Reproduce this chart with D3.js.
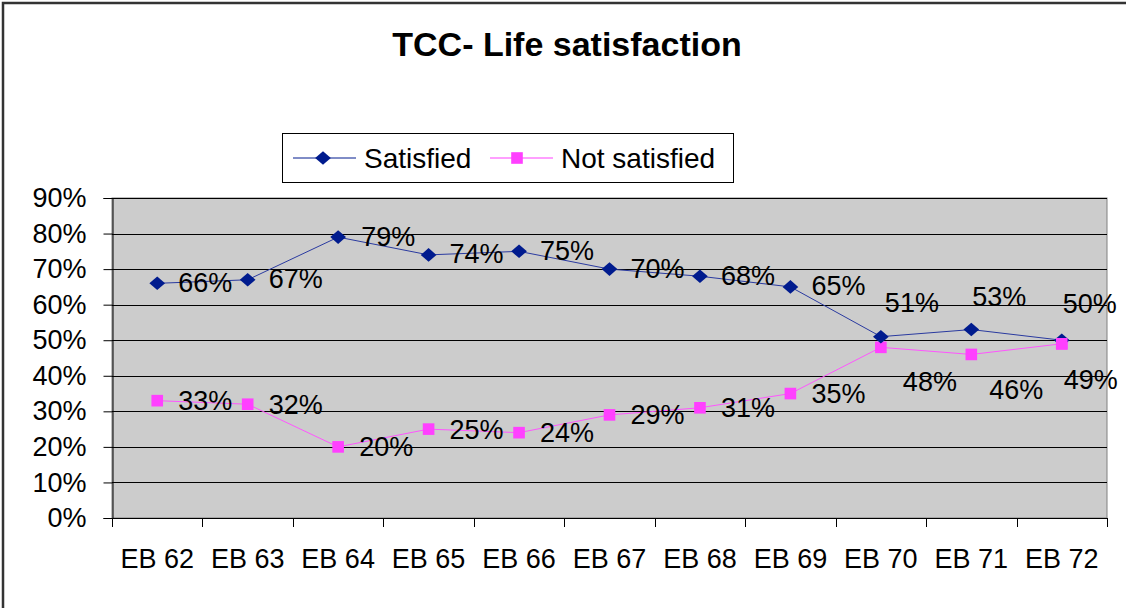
<!DOCTYPE html>
<html>
<head>
<meta charset="utf-8">
<script src="https://cdn.jsdelivr.net/npm/d3@7"></script>
<style>
  body { margin: 0; background: #fff; }
  text { font-family: Arial, "Liberation Sans", sans-serif; fill: #000; }
</style>
</head>
<body>
<script>
var categories = ["EB 62","EB 63","EB 64","EB 65","EB 66","EB 67","EB 68","EB 69","EB 70","EB 71","EB 72"];
var satisfied = [66,67,79,74,75,70,68,65,51,53,50];
var notSatisfied = [33,32,20,25,24,29,31,35,48,46,49];
var yTicks = [0,10,20,30,40,50,60,70,80,90];
var titleText = "TCC- Life satisfaction";
var seriesNames = ["Satisfied","Not satisfied"];

// label nudges (how Excel had them placed)
var satLabelShift = [[21,-1],[21,-1],[23,-1],[21,-1],[21,-1],[21,-1],[21,-1],[21,-1],[4,-34],[1,-33],[1,-37]];
var notLabelShift = [[21,0],[21,0],[21,0],[21,0],[21,0],[21,0],[21,0],[21,0],[22,34],[18,35],[2,36]];

var w=1126, h=608;
var fs=27;
var svg=d3.select("body").append("svg").attr("width",w).attr("height",h);

// outer frame
svg.append("path").attr("d","M3,"+h+"V3H"+w).attr("fill","none").attr("stroke","#333").attr("stroke-width",2.5);

var pLeft=112, pRight=1107, pTop=198, pBottom=518;
var x=d3.scaleBand().domain(categories).range([pLeft,pRight]).padding(0);
var y=d3.scaleLinear().domain([0,90]).range([pBottom,pTop]);
var cx=function(i){ return x(categories[i])+x.bandwidth()/2; };

// plot area
svg.append("rect").attr("x",pLeft).attr("y",pTop).attr("width",pRight-pLeft).attr("height",pBottom-pTop)
  .attr("fill","#cccccc").attr("stroke","#808080").attr("stroke-width",1);

// gridlines
svg.append("g").selectAll("line").data(yTicks.filter(function(d){return d>0;})).enter().append("line")
  .attr("x1",pLeft).attr("x2",pRight).attr("y1",function(d){return Math.round(y(d))+0.5;}).attr("y2",function(d){return Math.round(y(d))+0.5;})
  .attr("stroke","#000").attr("stroke-width",1);

// y axis
var yAxis=svg.append("g").attr("transform","translate("+(pLeft+0.5)+",0)")
  .call(d3.axisLeft(y).tickValues(yTicks).tickSize(9).tickPadding(17).tickFormat(function(d){return d+"%";}));
yAxis.select(".domain").attr("stroke","#000");
yAxis.selectAll(".tick line").attr("stroke","#000");
yAxis.selectAll("text").attr("font-size",fs).attr("font-family","Arial, 'Liberation Sans', sans-serif").attr("fill","#000");

// x axis
var xg=svg.append("g");
xg.append("line").attr("x1",pLeft).attr("x2",pRight).attr("y1",pBottom+0.5).attr("y2",pBottom+0.5).attr("stroke","#000");
var bounds=categories.map(function(c){return x(c);}).concat([pRight]);
xg.selectAll("line.tk").data(bounds).enter().append("line").attr("class","tk")
  .attr("x1",function(d){return Math.round(d)+0.5;}).attr("x2",function(d){return Math.round(d)+0.5;})
  .attr("y1",pBottom).attr("y2",pBottom+9).attr("stroke","#000");
xg.selectAll("text").data(categories).enter().append("text")
  .attr("x",function(d,i){return cx(i);}).attr("y",568).attr("text-anchor","middle").attr("font-size",fs)
  .text(function(d){return d;});

// series lines
var line=d3.line().x(function(d,i){return cx(i);}).y(function(d){return y(d);});
svg.append("path").datum(satisfied).attr("d",line).attr("fill","none").attr("stroke","#2a3aa0").attr("stroke-width",1);
svg.append("path").datum(notSatisfied).attr("d",line).attr("fill","none").attr("stroke","#ff55ff").attr("stroke-width",1);

var diamond=d3.symbol().type(d3.symbolDiamond2).size(130);
var square=d3.symbol().type(d3.symbolSquare).size(135);

svg.append("g").selectAll("path").data(notSatisfied).enter().append("path")
  .attr("d",square).attr("transform",function(d,i){return "translate("+cx(i)+","+y(d)+")";}).attr("fill","#ff40ff");
svg.append("g").selectAll("path").data(satisfied).enter().append("path")
  .attr("d",diamond).attr("transform",function(d,i){return "translate("+cx(i)+","+y(d)+") scale(1.1,0.95)";}).attr("fill","#001b8e");
// last not-satisfied square sits on top of the diamond
svg.append("path").attr("d",square).attr("transform","translate("+cx(10)+","+y(notSatisfied[10])+")").attr("fill","#ff40ff");

// data labels
svg.append("g").selectAll("text").data(satisfied).enter().append("text")
  .attr("x",function(d,i){return cx(i)+satLabelShift[i][0];}).attr("y",function(d,i){return y(d)+satLabelShift[i][1];})
  .attr("dy","0.35em").attr("font-size",fs).text(function(d){return d+"%";});
svg.append("g").selectAll("text").data(notSatisfied).enter().append("text")
  .attr("x",function(d,i){return cx(i)+notLabelShift[i][0];}).attr("y",function(d,i){return y(d)+notLabelShift[i][1];})
  .attr("dy","0.35em").attr("font-size",fs).text(function(d){return d+"%";});

// title
svg.append("text").attr("x",567).attr("y",56).attr("text-anchor","middle").attr("font-size",34).attr("font-weight","bold")
  .text(titleText);

// legend
var lg=svg.append("g");
lg.append("rect").attr("x",282.5).attr("y",133.5).attr("width",451).attr("height",49).attr("fill","#fff").attr("stroke","#000");
lg.append("line").attr("x1",293).attr("x2",356).attr("y1",158).attr("y2",158).attr("stroke","#001b8e");
lg.append("path").attr("d",diamond).attr("transform","translate(323,158) scale(1.1,0.95)").attr("fill","#001b8e");
lg.append("text").attr("x",364).attr("y",158).attr("dy","0.35em").attr("font-size",28).text(seriesNames[0]);
lg.append("line").attr("x1",490).attr("x2",553).attr("y1",158).attr("y2",158).attr("stroke","#ff40ff");
lg.append("path").attr("d",square).attr("transform","translate(517,158)").attr("fill","#ff40ff");
lg.append("text").attr("x",561).attr("y",158).attr("dy","0.35em").attr("font-size",28).text(seriesNames[1]);
</script>
</body>
</html>
